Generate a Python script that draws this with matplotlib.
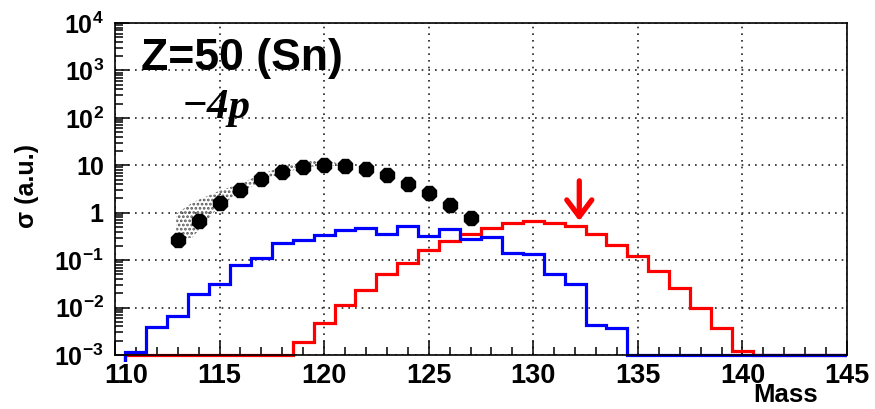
import numpy as np
import matplotlib
matplotlib.use("Agg")
import matplotlib.pyplot as plt
from matplotlib.patches import Rectangle
from matplotlib.transforms import ScaledTranslation

plt.rcParams['font.family'] = ['Liberation Sans', 'DejaVu Sans']
plt.rcParams['mathtext.fontset'] = 'custom'
plt.rcParams['mathtext.rm'] = 'Liberation Sans:bold'
plt.rcParams['mathtext.it'] = 'Liberation Sans:bold'
plt.rcParams['mathtext.bf'] = 'Liberation Sans:bold'
plt.rcParams['hatch.linewidth'] = 1.3

# histogram bins (mass numbers)
mass_bins = np.arange(111, 146)

# blue histogram
blue_vals = [1.15e-3, 3.9e-3, 6.5e-3, 0.0195, 0.031, 0.078, 0.11, 0.234, 0.26, 0.34,
             0.43, 0.48, 0.35, 0.52, 0.33, 0.45, 0.28, 0.31, 0.14, 0.135,
             0.050, 0.032, 0.0042, 0.0038] + [1e-3] * 11

# red histogram
red_vals = [1e-3] * 8 + [1.9e-3, 4.7e-3, 0.0115, 0.024, 0.051, 0.087, 0.16, 0.25,
                         0.36, 0.48, 0.62, 0.66, 0.62, 0.52, 0.36, 0.21, 0.12,
                         0.059, 0.026, 0.010, 0.0037, 1.2e-3] + [1e-3] * 5

# measured cross sections
exp_mass = np.arange(113, 128)
exp_sigma = [0.26, 0.68, 1.64, 3.0, 5.1, 7.4, 9.3, 10.3, 9.5, 8.2, 6.1, 4.0, 2.6, 1.44, 0.79]

# shaded band
band_mass = [112.93, 113.7, 115, 116, 117, 118, 119, 119.6, 120.4, 121]
band_low = [0.27, 0.30, 1.4, 2.7, 4.6, 6.9, 8.8, 9.6, 9.9, 9.5]
band_high = [0.95, 1.64, 2.9, 4.1, 6.5, 9.3, 12.1, 12.5, 11.8, 10.0]

arrow_mass = 132.2

fig = plt.figure(figsize=(8.75, 4.09), dpi=100)
ax = fig.add_axes([0.1314, 0.132, 0.8366, 0.8117])

ax.set_yscale('log')
ax.set_xlim(110, 145)
ax.set_ylim(1e-3, 1e4)

ax.grid(True, which='major', color='#222222', ls=(0, (1, 3)), lw=1.2)
ax.set_axisbelow(True)

ax.fill_between(band_mass, band_low, band_high, facecolor='none', edgecolor='#555555',
                hatch='....', lw=0)

edges = np.append(mass_bins - 0.5, mass_bins[-1] + 0.5)
clip = Rectangle((0, -0.02), 1, 1.04, transform=ax.transAxes, visible=False)
ax.add_patch(clip)
r = ax.stairs(red_vals, edges, color='#ff0000', lw=2.3)
b = ax.stairs(blue_vals, edges, color='#0000ff', lw=2.3)
r.set_clip_path(clip)
b.set_clip_path(clip)

ax.plot(exp_mass, exp_sigma, ls='none', marker='8', ms=10.5, color='black')

ax.annotate('', xy=(arrow_mass, 0.67), xytext=(arrow_mass, 4.7),
            arrowprops=dict(arrowstyle='->,head_length=0.6,head_width=0.45',
                            color='#ff0000', lw=3.8, mutation_scale=20,
                            shrinkA=0, shrinkB=0))

# ticks
ax.set_xticks(np.arange(110, 146, 5))
ax.set_xticks(np.arange(110, 146, 1), minor=True)
ax.set_xticklabels([str(v) for v in range(110, 146, 5)])
yt = [1e-3, 1e-2, 1e-1, 1, 10, 1e2, 1e3, 1e4]
ax.set_yticks(yt)
ax.set_yticklabels([r'$10^{-3}$', r'$10^{-2}$', r'$10^{-1}$', '1', '10',
                    r'$10^{2}$', r'$10^{3}$', r'$10^{4}$'])
ax.yaxis.set_minor_locator(matplotlib.ticker.LogLocator(base=10, subs=np.arange(2, 10), numticks=20))
ax.yaxis.set_minor_formatter(matplotlib.ticker.NullFormatter())
ax.tick_params(which='both', direction='in', top=False, right=False, width=1.1, color='black')
ax.tick_params(which='major', length=10)
ax.tick_params(which='minor', length=6)
ax.tick_params(axis='x', labelsize=19.5, pad=6)
ax.tick_params(axis='y', labelsize=18, pad=8)
for lbl in ax.get_xticklabels() + ax.get_yticklabels():
    lbl.set_fontweight('bold')
first = ax.get_xticklabels()[0]
first.set_transform(first.get_transform() + ScaledTranslation(11 / 100, 0, fig.dpi_scale_trans))

for s in ax.spines.values():
    s.set_linewidth(1.2)

fig.text(0.161, 0.829, 'Z=50 (Sn)', fontsize=32, fontweight='bold', va='baseline')
fig.text(0.207, 0.7115, '\u22124p', family='Liberation Serif', fontsize=31,
         fontweight='bold', style='italic', va='baseline')
fig.text(0.031, 0.545, '\u03c3 (a.u.)', fontsize=18, fontweight='bold',
         rotation=90, ha='center', va='center')
fig.text(0.935, 0.004, 'Mass', fontsize=18.5, fontweight='bold', ha='right', va='bottom')

fig.savefig('out.png', dpi=100)
